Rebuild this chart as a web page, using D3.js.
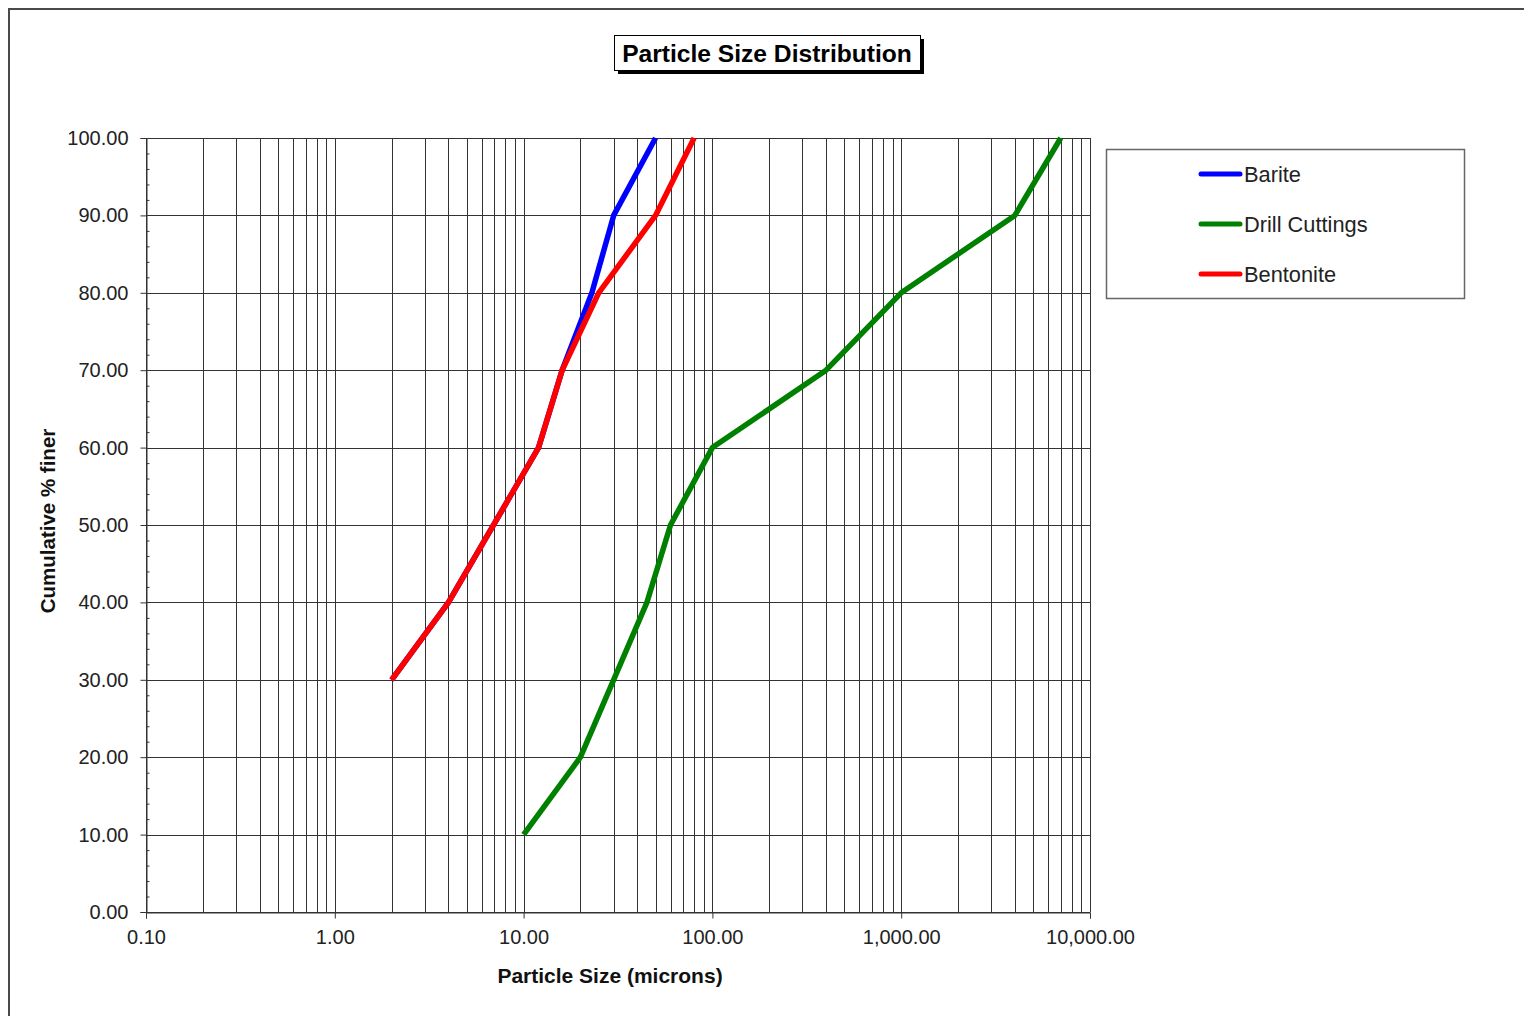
<!DOCTYPE html>
<html>
<head>
<meta charset="utf-8">
<script src="https://cdn.jsdelivr.net/npm/d3@7"></script>
<style>
  body { margin: 0; background: #fff; }
  svg { display: block; font-family: "Liberation Sans", Arial, sans-serif; }
  .tick text { fill: #222; }
</style>
</head>
<body>
<div id="chart"></div>
<script>
"use strict"

// Series values (size in microns, cumulative % finer)
const bariteSize = [2, 4, 12, 16, 23, 30, 50];
const bariteFiner = [30, 40, 60, 70, 80, 90, 100];

const cuttingsSize = [10, 20, 45, 60, 100, 400, 1000, 4000, 7000];
const cuttingsFiner = [10, 20, 40, 50, 60, 70, 80, 90, 100];

const bentoniteSize = [2, 4, 12, 16, 25, 50, 80];
const bentoniteFiner = [30, 40, 60, 70, 80, 90, 100];

const seriesNames = ["Barite", "Drill Cuttings", "Bentonite"];
const seriesColors = ["#0000ff", "#008000", "#ff0000"];

const xTickValues = [0.1, 1, 10, 100, 1000, 10000];
const yTickValues = [0, 10, 20, 30, 40, 50, 60, 70, 80, 90, 100];

// Figure layout
const figWidth = 1524;
const figHeight = 1016;
const plot = {left: 146, right: 1090, top: 138, bottom: 912};

const svg = d3.select("#chart").append("svg")
  .attr("width", figWidth)
  .attr("height", figHeight);

// outer frame of the chart object
svg.append("rect")
  .attr("x", 9)
  .attr("y", 9)
  .attr("width", 1700)
  .attr("height", 1200)
  .attr("fill", "none")
  .attr("stroke", "#4a4a4a")
  .attr("stroke-width", 2);

const xScale = d3.scaleLog()
  .domain([0.1, 10000])
  .range([plot.left, plot.right]);

const yScale = d3.scaleLinear()
  .domain([0, 100])
  .range([plot.bottom, plot.top]);

// log grid: 1..9 in every decade
const gridX = [];
for (let d = 0.1; d < 10000; d *= 10) {
  for (let k = 1; k < 10; k++) gridX.push(+(d * k).toPrecision(3));
}
gridX.push(10000);

const grid = svg.append("g").attr("class", "grid");

grid.selectAll("line.v")
  .data(gridX)
  .enter().append("line")
    .attr("class", "v")
    .attr("x1", d => Math.round(xScale(d)) + 0.5)
    .attr("x2", d => Math.round(xScale(d)) + 0.5)
    .attr("y1", plot.top)
    .attr("y2", plot.bottom)
    .attr("stroke", "#333")
    .attr("stroke-width", 1);

grid.selectAll("line.h")
  .data(yTickValues)
  .enter().append("line")
    .attr("class", "h")
    .attr("x1", plot.left)
    .attr("x2", plot.right)
    .attr("y1", d => Math.round(yScale(d)) + 0.5)
    .attr("y2", d => Math.round(yScale(d)) + 0.5)
    .attr("stroke", "#333")
    .attr("stroke-width", 1);

// Axes
const xAxis = d3.axisBottom(xScale)
  .tickValues(xTickValues)
  .tickSize(6)
  .tickPadding(11)
  .tickFormat(d3.format(",.2f"));

const yAxis = d3.axisLeft(yScale)
  .tickValues(yTickValues)
  .tickSize(6)
  .tickPadding(12)
  .tickFormat(d3.format(".2f"));

// minor ticks on the inside of the y axis
const yMinor = d3.axisRight(yScale)
  .tickValues(d3.range(0, 101, 2).filter(v => v % 10 != 0))
  .tickSize(3)
  .tickFormat("");

svg.append("g")
  .attr("transform", `translate(0, ${plot.bottom + 0.5})`)
  .call(xAxis)
  .call(g => g.selectAll(".domain").attr("stroke", "#333"))
  .call(g => g.selectAll(".tick line").attr("stroke", "#333"))
  .selectAll("text")
    .style("font-size", "20px");

svg.append("g")
  .attr("transform", `translate(${plot.left + 0.5}, 0)`)
  .call(yAxis)
  .call(g => g.selectAll(".domain").attr("stroke", "#333"))
  .call(g => g.selectAll(".tick line").attr("stroke", "#333"))
  .selectAll("text")
    .style("font-size", "20px");

svg.append("g")
  .attr("transform", `translate(${plot.left + 0.5}, 0)`)
  .call(yMinor)
  .call(g => g.select(".domain").remove())
  .call(g => g.selectAll(".tick line").attr("stroke", "#333"));

// Axis titles
svg.append("text")
  .attr("x", 610)
  .attr("y", 983)
  .attr("text-anchor", "middle")
  .style("font-size", "21px")
  .style("font-weight", "bold")
  .attr("fill", "#111")
  .text("Particle Size (microns)");

svg.append("text")
  .attr("transform", `translate(55, 521) rotate(-90)`)
  .attr("text-anchor", "middle")
  .style("font-size", "20.5px")
  .style("font-weight", "bold")
  .attr("fill", "#111")
  .text("Cumulative % finer");

// Series lines
const series = [
  {name: seriesNames[0], color: seriesColors[0], sizes: bariteSize, finer: bariteFiner},
  {name: seriesNames[1], color: seriesColors[1], sizes: cuttingsSize, finer: cuttingsFiner},
  {name: seriesNames[2], color: seriesColors[2], sizes: bentoniteSize, finer: bentoniteFiner}
];

const line = d3.line()
  .x(d => xScale(d[0]))
  .y(d => yScale(d[1]));

svg.append("g")
  .attr("class", "series")
  .selectAll("path")
  .data(series)
  .enter().append("path")
    .attr("d", s => line(s.sizes.map((v, i) => [v, s.finer[i]])))
    .attr("fill", "none")
    .attr("stroke", s => s.color)
    .attr("stroke-width", 5.5)
    .attr("stroke-linejoin", "round");

// Title box with drop shadow
const title = svg.append("g").attr("class", "title");
title.append("rect")
  .attr("x", 618).attr("y", 39)
  .attr("width", 306).attr("height", 35)
  .attr("fill", "#000");
title.append("rect")
  .attr("x", 614.5).attr("y", 35.5)
  .attr("width", 306).attr("height", 35)
  .attr("fill", "#fff")
  .attr("stroke", "#000")
  .attr("stroke-width", 1);
title.append("text")
  .attr("x", 767)
  .attr("y", 62)
  .attr("text-anchor", "middle")
  .style("font-size", "24.6px")
  .style("font-weight", "bold")
  .attr("fill", "#000")
  .text("Particle Size Distribution");

// Legend
const legend = svg.append("g").attr("class", "legend");
legend.append("rect")
  .attr("x", 1106.5).attr("y", 149.5)
  .attr("width", 358).attr("height", 149)
  .attr("fill", "#fff")
  .attr("stroke", "#666")
  .attr("stroke-width", 1.5);

const items = legend.selectAll("g.item")
  .data(series)
  .enter().append("g")
    .attr("class", "item")
    .attr("transform", (d, i) => `translate(0, ${174 + i * 50})`);

items.append("line")
  .attr("x1", 1201).attr("x2", 1240)
  .attr("y1", 0).attr("y2", 0)
  .attr("stroke", d => d.color)
  .attr("stroke-width", 5)
  .attr("stroke-linecap", "round");

items.append("text")
  .attr("x", 1244)
  .attr("y", 7.5)
  .style("font-size", "21.8px")
  .attr("fill", "#222")
  .text(d => d.name);
</script>
</body>
</html>
